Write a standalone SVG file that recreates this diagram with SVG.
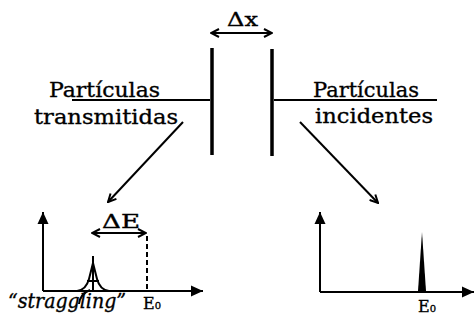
<svg xmlns="http://www.w3.org/2000/svg" width="475" height="324" viewBox="0 0 475 324">
<style>
.t{font-family:"DejaVu Serif","Liberation Serif",serif;fill:#000;stroke:#000;stroke-width:0.35}
.ln{stroke:#000;fill:none;stroke-width:2}
.plate{stroke:#000;stroke-width:3.5}
</style>
<defs>
<marker id="open" viewBox="0 0 10 10" refX="9" refY="5" markerWidth="10" markerHeight="10" markerUnits="userSpaceOnUse" orient="auto-start-reverse">
<path d="M1,1 L9,5 L1,9" fill="none" stroke="#000" stroke-width="2"/>
</marker>
<marker id="fill" viewBox="0 0 12 12" refX="12" refY="6" markerWidth="12" markerHeight="12" markerUnits="userSpaceOnUse" orient="auto">
<path d="M0,0.5 L12,6 L0,11.5 z" fill="#000"/>
</marker>
</defs>
<rect width="475" height="324" fill="#fff"/>
<g id="target">
<line class="plate" x1="212" y1="48" x2="212" y2="155"/>
<line class="plate" x1="272" y1="49" x2="272" y2="156"/>
<text class="t" x="227" y="26" font-size="19" textLength="31" lengthAdjust="spacingAndGlyphs">Δx</text>
</g>
<g id="transmitted-label">
<text class="t" x="49" y="97" font-size="20" textLength="111" lengthAdjust="spacingAndGlyphs">Partículas</text>
<text class="t" x="34" y="124" font-size="20" textLength="144" lengthAdjust="spacingAndGlyphs">transmitidas</text>
</g>
<g id="incident-label">
<text class="t" x="313" y="97" font-size="20" textLength="106" lengthAdjust="spacingAndGlyphs">Partículas</text>
<text class="t" x="315" y="123" font-size="20" textLength="118" lengthAdjust="spacingAndGlyphs">incidentes</text>
</g>
<g id="spectrum-transmitted">
<line class="ln" x1="43" y1="291" x2="43" y2="212" marker-end="url(#fill)"/>
<line class="ln" x1="43" y1="291" x2="203" y2="291" marker-end="url(#fill)"/>
<path class="ln" stroke-width="1.8" d="M77,291 Q86,290 89,279 L93,263 L97,279 Q100,290 109,291"/>
<line class="ln" stroke-width="1.8" x1="93" y1="256" x2="93" y2="291"/>
<line class="ln" stroke-width="1.8" x1="87" y1="281" x2="99" y2="281"/>
<path class="ln" stroke-width="1.8" d="M79,304 Q80,294 90,290"/>
<line class="ln" stroke-dasharray="5,3" x1="147" y1="236" x2="147" y2="291"/>
<line class="ln" x1="92" y1="233" x2="146" y2="233" marker-start="url(#open)" marker-end="url(#open)"/>
<text class="t" x="102" y="228" font-size="18" textLength="38" lengthAdjust="spacingAndGlyphs">ΔE</text>
<text class="t" x="143" y="309" font-size="16">E<tspan font-size="10">0</tspan></text>
<text class="t" x="8" y="308" font-size="20" font-style="italic" textLength="118" lengthAdjust="spacingAndGlyphs">“straggling”</text>
</g>
<g id="spectrum-incident">
<line class="ln" x1="320" y1="292" x2="320" y2="212" marker-end="url(#fill)"/>
<line class="ln" x1="320" y1="292" x2="474" y2="292" marker-end="url(#fill)"/>
<path d="M418,291 L422,232 L426,291 z" fill="#000"/>
<text class="t" x="418" y="312" font-size="16">E<tspan font-size="10">0</tspan></text>
</g>
<g id="connectors">
<line class="ln" stroke-width="1.6" x1="72" y1="100" x2="210" y2="100"/>
<line class="ln" stroke-width="1.6" x1="274" y1="100" x2="437" y2="100"/>
<line class="ln" x1="211" y1="33" x2="272" y2="33" marker-start="url(#open)" marker-end="url(#open)"/>
<line class="ln" x1="183" y1="122" x2="108" y2="202" marker-end="url(#open)"/>
<line class="ln" x1="300" y1="122" x2="378" y2="203" marker-end="url(#open)"/>
</g>
</svg>
